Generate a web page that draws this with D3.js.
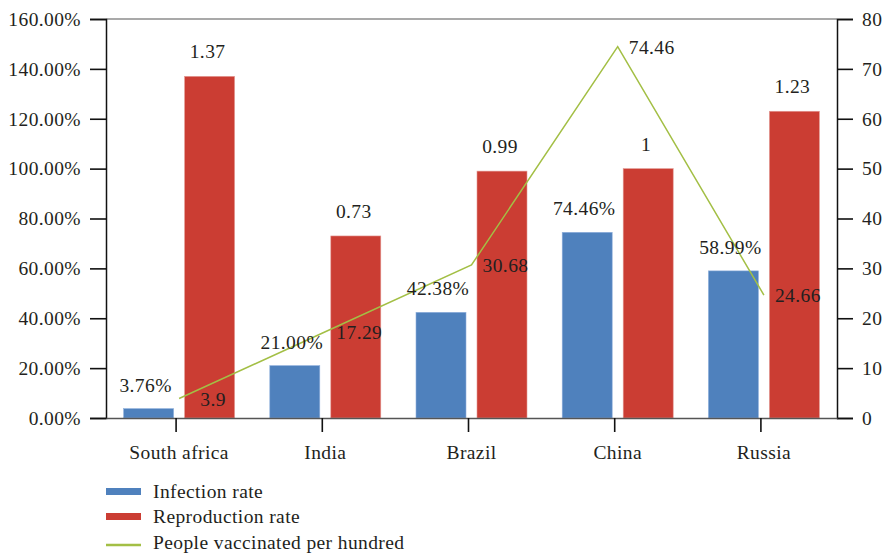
<!DOCTYPE html>
<html><head><meta charset="utf-8">
<script src="https://cdn.jsdelivr.net/npm/d3@7/dist/d3.min.js"></script>
<style>
html,body{margin:0;padding:0;background:#fff;}
</style></head>
<body><svg id="c" width="883" height="558" font-family="Liberation Serif" font-size="19.5"></svg>
<script>
const categories = ["South africa","India","Brazil","China","Russia"];
const infectionRate = [3.76, 21.00, 42.38, 74.46, 58.99];      // %
const reproductionRate = [1.37, 0.73, 0.99, 1, 1.23];
const vaccinated = [3.9, 17.29, 30.68, 74.46, 24.66];
const leftTicks = [0,20,40,60,80,100,120,140,160];
const rightTicks = [0,10,20,30,40,50,60,70,80];
const seriesNames = ["Infection rate","Reproduction rate","People vaccinated per hundred"];
const colors = {blue:"#4f81bd", red:"#cb3d33", green:"#a3bf45"};
const FONT = "Liberation Serif", FS = 19.5, LS = "0.4px", TC = "#231f20";

const svg = d3.select("#c");
const L = 106, R = 837, T = 19, B = 418;
const x = d3.scaleBand().domain(categories).range([L, R]);
const yL = d3.scaleLinear().domain([0,160]).range([B, T]);
const yR = d3.scaleLinear().domain([0,80]).range([B, T]);
const bw = 50, gap = 5.5;
const cx = c => x(c) + x.bandwidth()/2;
const styleText = s => s.attr("font-family",FONT).attr("font-size",FS).attr("letter-spacing",LS).attr("fill",TC);

// frame top line
svg.append("line").attr("x1",L).attr("x2",R).attr("y1",T).attr("y2",T)
  .attr("stroke","#555").attr("stroke-width",1.2);

// bars
svg.selectAll(".b1").data(categories).join("rect")
  .attr("x", c => cx(c) - gap - bw).attr("width", bw)
  .attr("y", (c,i) => yL(infectionRate[i])).attr("height", (c,i) => B - yL(infectionRate[i]))
  .attr("fill", colors.blue).attr("stroke","#8fb0dc").attr("stroke-width",0.6);
svg.selectAll(".b2").data(categories).join("rect")
  .attr("x", c => cx(c) + gap).attr("width", bw)
  .attr("y", (c,i) => yL(reproductionRate[i]*100)).attr("height", (c,i) => B - yL(reproductionRate[i]*100))
  .attr("fill", colors.red).attr("stroke","#e39a94").attr("stroke-width",0.6);

// line
const line = d3.line().x((d,i) => cx(categories[i])).y(d => yR(d));
svg.append("path").datum(vaccinated).attr("d", line)
  .attr("fill","none").attr("stroke", colors.green).attr("stroke-width",1.5);

// axes
const axL = svg.append("g").attr("transform",`translate(${L},0)`)
  .call(d3.axisLeft(yL).tickValues(leftTicks).tickSize(16).tickPadding(9).tickFormat(d => d.toFixed(2)+"%"));
const axR = svg.append("g").attr("transform",`translate(${R},0)`)
  .call(d3.axisRight(yR).tickValues(rightTicks).tickSize(16).tickPadding(9).tickFormat(d3.format("d")));
const axB = svg.append("g").attr("transform",`translate(0,${B})`)
  .call(d3.axisBottom(x).tickSize(14).tickPadding(10).tickSizeOuter(0));
[axL, axR, axB].forEach(a => {
  a.attr("font-family",FONT).attr("font-size",FS);
  a.selectAll("path.domain").attr("stroke","#111").attr("stroke-width",1.5);
  a.selectAll(".tick line").attr("stroke","#111").attr("stroke-width",1.6);
  a.selectAll("text").call(styleText);
});
axB.select("path.domain").attr("stroke","#555");
axB.selectAll(".tick line").attr("transform","translate(-3,0)");
axB.selectAll(".tick text").attr("dy","0.85em");

// bar labels
svg.selectAll(".l1").data(categories).join("text").call(styleText)
  .attr("x", c => cx(c) - gap - bw/2 - 3).attr("y", (c,i) => yL(infectionRate[i]) - 17)
  .attr("text-anchor","middle").text((c,i) => infectionRate[i].toFixed(2)+"%");
svg.selectAll(".l2").data(categories).join("text").call(styleText)
  .attr("x", c => cx(c) + gap + bw/2 - 2).attr("y", (c,i) => yL(reproductionRate[i]*100) - 18)
  .attr("text-anchor","middle").text((c,i) => String(reproductionRate[i]));
svg.selectAll(".l3").data(categories).join("text").call(styleText)
  .attr("x", c => cx(c) + 34).attr("y", (c,i) => yR(vaccinated[i]) + 7)
  .attr("text-anchor","middle").text((c,i) => String(vaccinated[i]));

// legend
const lg = svg.append("g");
const rows = [492, 517, 543];
lg.append("rect").attr("x",106).attr("y",rows[0]-4).attr("width",35).attr("height",7).attr("fill",colors.blue);
lg.append("rect").attr("x",106).attr("y",rows[1]-4).attr("width",35).attr("height",7).attr("fill",colors.red);
lg.append("line").attr("x1",106).attr("x2",141).attr("y1",rows[2]+2).attr("y2",rows[2]+2)
  .attr("stroke",colors.green).attr("stroke-width",2.5);
seriesNames.forEach((n,i) => lg.append("text").call(styleText).attr("x",153).attr("y",rows[i]+6).text(n));
</script></body></html>
